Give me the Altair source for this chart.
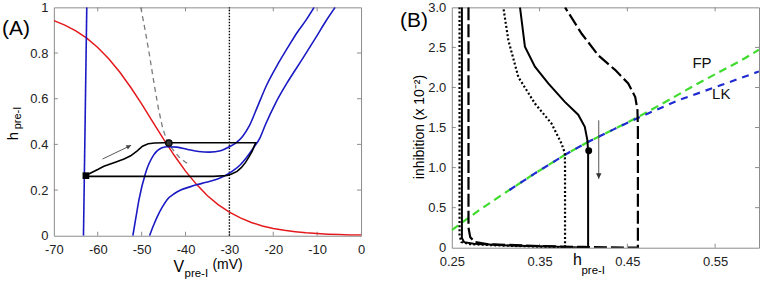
import altair as alt
import pandas as pd

FONT = "Liberation Sans"

# ---------------- Panel A data ----------------
A_xticks = [-70, -60, -50, -40, -30, -20, -10, 0]
A_yticks = [0, 0.2, 0.4, 0.6, 0.8, 1]

red_v = [-70, -67.5, -65, -62.5, -60, -57.5, -55, -52.5, -50, -47.5, -45, -42.5, -40,
         -37.5, -35, -32.5, -30, -27.5, -25, -22.5, -20, -17.5, -15, -12.5, -10, -7.5, -5, -2.5, 0]
red_h = [0.942, 0.922, 0.897, 0.865, 0.824, 0.775, 0.717, 0.650, 0.577, 0.500, 0.423, 0.350, 0.283,
         0.225, 0.175, 0.135, 0.103, 0.078, 0.058, 0.043, 0.032, 0.024, 0.018, 0.013, 0.0096, 0.007,
         0.0052, 0.0038, 0.0028]

bvert_v = [-63.25, -62.5]
bvert_h = [0.0, 1.0]

bleft_v = [-52.0, -51.3, -50.6, -49.1, -47.2, -45.5, -44.0, -42.0, -39.5, -37.0, -34.5, -32.0,
           -30.0, -28.5, -27.0, -25.5, -23.5, -21.5, -19.0, -16.5, -14.6, -12.5, -10.7]
bleft_h = [0.0, 0.08, 0.158, 0.275, 0.355, 0.384, 0.390, 0.388, 0.378, 0.369, 0.366, 0.372,
           0.390, 0.407, 0.435, 0.480, 0.570, 0.660, 0.750, 0.830, 0.889, 0.945, 1.0]

bright_v = [-48.2, -47.3, -46.4, -45.3, -44.2, -42.5, -41.1, -39.0, -37.3, -35.5, -33.6, -32.0,
            -30.5, -29.0, -27.5, -26.0, -24.5, -23.0, -21.8, -19.5, -16.9, -13.5, -10.1, -8.0, -5.9]
bright_h = [0.0, 0.045, 0.085, 0.125, 0.158, 0.185, 0.200, 0.214, 0.224, 0.233, 0.243, 0.254,
            0.268, 0.287, 0.311, 0.345, 0.385, 0.430, 0.486, 0.580, 0.668, 0.770, 0.874, 0.940, 1.0]

grey_v = [-50.2, -49.2, -48.2, -47.2, -46.2, -45.2, -44.2, -43.0, -41.5, -40.0, -38.9]
grey_h = [1.0, 0.90, 0.79, 0.67, 0.56, 0.47, 0.415, 0.38, 0.345, 0.322, 0.311]

traj_v = [-62.7, -61.6, -60.0, -58.6, -56.0, -54.0, -52.5, -51.0, -49.8, -48.5, -47.0, -45.0,
          -24.0, -24.4, -24.8, -25.6, -26.4, -27.3, -28.25, -29.5, -30.5, -33.6, -40.0, -62.7]
traj_h = [0.263, 0.275, 0.290, 0.304, 0.322, 0.336, 0.350, 0.372, 0.392, 0.403, 0.406, 0.407,
          0.407, 0.390, 0.370, 0.343, 0.319, 0.298, 0.282, 0.270, 0.264, 0.260, 0.260, 0.260]

vline_v = [-30, -30]
vline_h = [0, 1]

square_v, square_h = [-62.7], [0.263]
fp_v, fp_h = [-43.8], [0.406]

arrA_v = [-58.9, -52.4]
arrA_h = [0.336, 0.396]

# ---------------- Panel B data ----------------
B_xticks = [0.25, 0.35, 0.45, 0.55]
B_yticks = [0, 0.5, 1.0, 1.5, 2.0, 2.5, 3.0]

dot_x = [0.2588, 0.2588, 0.261, 0.270, 0.300, 0.340, 0.379, 0.379, 0.3788, 0.375, 0.3636,
         0.3447, 0.3258, 0.3144, 0.3087]
dot_y = [3.0, 0.15, 0.07, 0.045, 0.030, 0.015, 0.0, 1.0, 1.18, 1.30, 1.55, 1.80, 2.13, 2.59, 3.0]

sol_x = [0.2615, 0.2615, 0.264, 0.275, 0.310, 0.360, 0.4053, 0.4053, 0.4053, 0.4045, 0.4015,
         0.394, 0.3788, 0.3599, 0.3447, 0.3333, 0.3277]
sol_y = [3.0, 0.12, 0.07, 0.05, 0.03, 0.015, 0.0, 1.0, 1.2, 1.34, 1.51, 1.66, 1.82, 2.05, 2.26,
         2.51, 3.0]

dash_x = [0.269, 0.269, 0.271, 0.2765, 0.290, 0.350, 0.400, 0.462, 0.462, 0.462, 0.4615, 0.459,
          0.451, 0.436, 0.417, 0.398, 0.379]
dash_y = [3.0, 0.25, 0.13, 0.07, 0.045, 0.02, 0.01, 0.0, 1.0, 1.5, 1.72, 1.88, 2.05, 2.22, 2.40,
          2.67, 3.0]

fpB_x = [0.25, 0.28, 0.31, 0.345, 0.379, 0.405, 0.435, 0.462, 0.50, 0.527, 0.58, 0.60]
fpB_y = [0.22, 0.46, 0.68, 0.93, 1.16, 1.32, 1.48, 1.63, 1.86, 2.03, 2.34, 2.47]

lk_x = [0.31, 0.345, 0.379, 0.405, 0.435, 0.462, 0.508, 0.557, 0.60]
lk_y = [0.68, 0.93, 1.16, 1.32, 1.48, 1.62, 1.84, 2.03, 2.20]

dotB_x, dotB_y = [0.406], [1.21]
arrB_x = [0.4174, 0.4174]
arrB_y = [1.59, 0.86]

# ---------------- sizes ----------------
WA, HA = 308, 229
WB, HB = 308, 241
TICK = 4
AXC = "#8c8c8c"

def xy_df(xs, ys):
    return pd.DataFrame({"x": xs, "y": ys, "i": list(range(len(xs)))})

def make_enc(domx, domy, xvals, yvals, xexpr, yexpr, lpx, lpy):
    ax = alt.Axis(values=xvals, labelExpr=xexpr, tickSize=0, labelPadding=lpx, domain=False,
                  grid=False, labelFont=FONT, labelFontSize=13, labelColor="#222",
                  labelFlush=False, labelOverlap=False)
    ay = alt.Axis(values=yvals, labelExpr=yexpr, tickSize=0, labelPadding=lpy, domain=False,
                  grid=False, labelFont=FONT, labelFontSize=13, labelColor="#222",
                  labelFlush=False, labelOverlap=False)
    X = alt.X("x:Q", scale=alt.Scale(domain=domx, nice=False, zero=False), axis=ax, title=None)
    Y = alt.Y("y:Q", scale=alt.Scale(domain=domy, nice=False, zero=False), axis=ay, title=None)
    return X, Y

def line(xs, ys, X, Y, **mark):
    return alt.Chart(xy_df(xs, ys)).mark_line(clip=True, **mark).encode(x=X, y=Y, order="i:Q")

def pts(xs, ys, X, Y, **mark):
    return alt.Chart(xy_df(xs, ys)).mark_point(**mark).encode(x=X, y=Y)

def label(text, x, y, size, angle=0, align="left", baseline="alphabetic"):
    return alt.Chart(pd.DataFrame({"t": [text]})).mark_text(
        align=align, baseline=baseline, fontSize=size, font=FONT, angle=angle, color="black"
    ).encode(x=alt.value(x), y=alt.value(y), text="t:N")

def ticks(xvals, yvals, X, Y, W, H):
    dx = pd.DataFrame({"x": xvals})
    dy = pd.DataFrame({"y": yvals})
    r = dict(color=AXC, strokeWidth=1)
    return [
        alt.Chart(dx).mark_rule(**r).encode(x=X, y=alt.value(H), y2=alt.value(H - TICK)),
        alt.Chart(dx).mark_rule(**r).encode(x=X, y=alt.value(0), y2=alt.value(TICK)),
        alt.Chart(dy).mark_rule(**r).encode(y=Y, x=alt.value(0), x2=alt.value(TICK)),
        alt.Chart(dy).mark_rule(**r).encode(y=Y, x=alt.value(W), x2=alt.value(W - TICK)),
    ]

ARROW = "M0,0L-1,-0.5L-1,0.5Z"

# ---------------- Panel A ----------------
XA, YA = make_enc([-70, 0], [0, 1], A_xticks, A_yticks,
                  "'' + datum.value", "format(datum.value, '~g')", 8, 6)

layersA = ticks(A_xticks[1:-1], A_yticks[1:-1], XA, YA, WA, HA) + [
    line(vline_v, vline_h, XA, YA, color="black", strokeWidth=1.4, strokeDash=[1.5, 1.5]),
    line(red_v, red_h, XA, YA, color="#e3191c", strokeWidth=1.5),
    line(grey_v, grey_h, XA, YA, color="#7a7a7a", strokeWidth=1.3, strokeDash=[5, 4]),
    line(bvert_v, bvert_h, XA, YA, color="#1a1ac4", strokeWidth=1.6),
    line(bleft_v, bleft_h, XA, YA, color="#1a1ac4", strokeWidth=1.6, interpolate="monotone"),
    line(bright_v, bright_h, XA, YA, color="#1a1ac4", strokeWidth=1.6, interpolate="monotone"),
    line(traj_v, traj_h, XA, YA, color="black", strokeWidth=1.6),
    line(arrA_v, arrA_h, XA, YA, color="#444", strokeWidth=0.9),
    pts(arrA_v[1:], arrA_h[1:], XA, YA, shape=ARROW, filled=True, size=90, angle=334,
        color="#444", opacity=1),
    pts(square_v, square_h, XA, YA, shape="square", filled=True, size=45, color="black", opacity=1),
    pts(fp_v, fp_h, XA, YA, shape="circle", filled=True, size=42, color="#333",
        stroke="black", strokeWidth=1.2, opacity=1),
    label("(A)", -52, 28, 21),
    label("h", -36, 129, 15, angle=270, align="center"),
    label("pre-I", -33, 111, 11, angle=270, align="center"),
    label("V", 120, 265, 16),
    label("pre-I", 131, 270.5, 11.5),
    label("(mV)", 159, 262, 14),
]
chartA = alt.layer(*layersA).properties(width=WA, height=HA)

# ---------------- Panel B ----------------
XB, YB = make_enc([0.25, 0.6], [0, 3], B_xticks, B_yticks,
                  "format(datum.value, '.2f')",
                  "datum.value == 0 ? '0' : format(datum.value, '.1f')", 8, 6)

layersB = ticks(B_xticks[1:], B_yticks[1:-1], XB, YB, WB, HB) + [
    line(fpB_x, fpB_y, XB, YB, color="#3fdc2f", strokeWidth=2.2, strokeDash=[8, 5]),
    line(lk_x, lk_y, XB, YB, color="#1f2bd0", strokeWidth=2.2, strokeDash=[7, 6],
         strokeDashOffset=7),
    line(dot_x, dot_y, XB, YB, color="black", strokeWidth=2.2, strokeDash=[2, 2.2]),
    line(sol_x, sol_y, XB, YB, color="black", strokeWidth=2.0),
    line(dash_x, dash_y, XB, YB, color="black", strokeWidth=2.2, strokeDash=[13, 4]),
    line(arrB_x, arrB_y, XB, YB, color="#555", strokeWidth=1),
    pts(arrB_x[1:], arrB_y[1:], XB, YB, shape=ARROW, filled=True, size=120, angle=90,
        color="#333", opacity=1),
    pts(dotB_x, dotB_y, XB, YB, shape="circle", filled=True, size=48, color="black", opacity=1),
    alt.Chart(pd.DataFrame({"x": [0.535, 0.557], "y": [2.30, 1.92], "t": ["FP", "LK"]}))
      .mark_text(font=FONT, fontSize=15, color="#111", align="center", baseline="middle")
      .encode(x=XB, y=YB, text="t:N"),
    label("(B)", -52, 20, 21),
    label("inhibition (x 10\u207b\u00b2)", -32, 120, 14, angle=270, align="center",
          baseline="middle"),
    label("h", 121.5, 258, 16),
    label("pre-I", 130, 267, 11.5),
]
chartB = alt.layer(*layersB).properties(width=WB, height=HB)

chart = alt.hconcat(chartA, chartB, spacing=33).properties(
    padding={"left": 1, "top": 0, "right": 0, "bottom": 0},
    background="white",
).configure_view(stroke=AXC, strokeWidth=1)

chart.save("out.html", embed_options={"renderer": "svg", "actions": False})
